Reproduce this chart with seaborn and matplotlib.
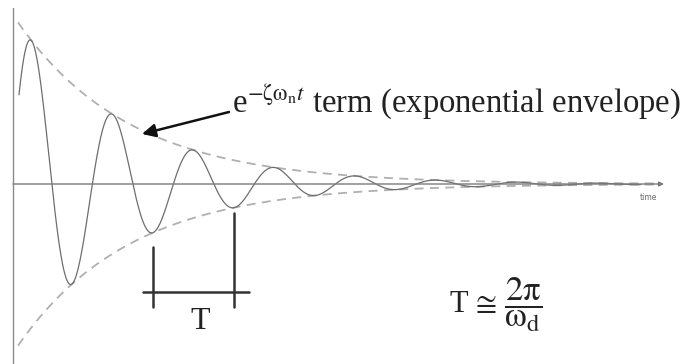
import numpy as np
import pandas as pd
import matplotlib
matplotlib.use("Agg")
import matplotlib.pyplot as plt
import seaborn as sns

sns.set_style("white")
plt.rcParams["font.family"] = ["Liberation Serif", "DejaVu Serif"]
plt.rcParams["mathtext.fontset"] = "stix"

# response parameters (time in periods, amplitude in envelope units)
period = 1.0          # damped period T
decay = 0.72          # zeta*omega_n per period
amplitude = 1.0       # envelope value at t = 0
t_first_peak = 0.23   # time of first peak
t_start, t_end = 0.074, 7.75
env_start, env_end = 0.062, 7.95

t = np.linspace(t_start, t_end, 1500)
resp = amplitude * np.exp(-decay * t) * np.cos(2 * np.pi * (t - t_first_peak) / period)
df = pd.DataFrame({"time": t, "response": resp})

te = np.linspace(env_start, env_end, 400)
env = pd.DataFrame({"time": te, "upper": amplitude * np.exp(-decay * te)})
env["lower"] = -env["upper"]

# pixel helpers for the annotation layout (681x364 canvas)
def px_x(p):
    return (p - 13) / 81.0

def px_y(p):
    return (184 - p) / 169.0

fig = plt.figure(figsize=(6.81, 3.64), dpi=100)
ax = fig.add_axes([0, 0, 1, 1])

# axes lines
ax.plot([0, 0], [px_y(364), px_y(8)], color="#8a8a8a", lw=1.0)
ax.annotate("", xy=(px_x(664), 0), xytext=(0, 0),
            arrowprops=dict(arrowstyle="-|>", color="#7a7a7a", lw=1.0,
                            mutation_scale=7, shrinkA=0, shrinkB=0))
ax.text(px_x(648), px_y(197), "time", fontsize=5.5, family="DejaVu Sans",
        color="#666666", ha="center", va="center")

# envelope and response
for col in ["upper", "lower"]:
    sns.lineplot(data=env, x="time", y=col, ax=ax, color="#b0b0b0", lw=1.3,
                 linestyle=(0, (5, 3.5)), legend=False)
sns.lineplot(data=df, x="time", y="response", ax=ax, color="#6e6e6e", lw=0.9,
             legend=False)
ax.set_xlim(px_x(0), px_x(681))
ax.set_ylim(px_y(364), px_y(0))
ax.axis("off")

# envelope annotation
ax.text(px_x(232), px_y(112),
        r"e$^{-\mathrm{\zeta\omega_{n}}t}$ term (exponential envelope)",
        fontsize=23.5, color="#222222", ha="left", va="baseline")
ax.annotate("", xy=(px_x(142), px_y(134)), xytext=(px_x(229), px_y(112)),
            arrowprops=dict(arrowstyle="-|>", color="#111111", lw=1.8,
                            mutation_scale=20, shrinkA=0, shrinkB=0))

# period bracket between second and third trough
tr1 = t_first_peak + 1.5 * period
tr2 = t_first_peak + 2.5 * period
bc = "#333333"
ax.plot([tr1, tr1], [px_y(247), px_y(307)], color=bc, lw=1.8)
ax.plot([tr2, tr2], [px_y(213), px_y(307)], color=bc, lw=1.8)
ax.plot([tr1 - 0.12, tr2 + 0.18], [px_y(292), px_y(292)], color=bc, lw=1.8)
ax.text((tr1 + tr2) / 2 + 0.08, px_y(329), "T", fontsize=23, color="#222222",
        ha="center", va="baseline")

# period formula
ax.text(px_x(449), px_y(312), r"T$\,\cong$", fontsize=22, color="#222222",
        ha="left", va="baseline")
ax.text(px_x(523), px_y(305), r"$\dfrac{2\mathrm{\pi}}{\mathrm{\omega_{d}}}$",
        fontsize=25, color="#222222", ha="center", va="center")

fig.savefig("out.png", dpi=100)
